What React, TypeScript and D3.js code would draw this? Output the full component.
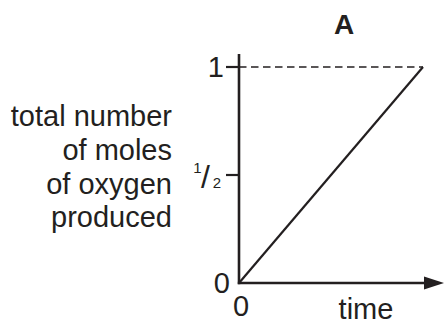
import { useEffect, useRef } from "react";
import * as d3 from "d3";

// data
const timeValues = [0, 1];
const molesValues = [0, 1];
const yTicks = [0, 0.5, 1];
const yTickLabels = ["0", "½", "1"];
const xTicks = [0];
const xTickLabels = ["0"];
const yTitleLines = ["total number", "of moles", "of oxygen", "produced"];
const xTitle = "time";
const chartTitle = "A";

const FONT = "'Liberation Sans', Arial, Helvetica, sans-serif";

const App = () => {
    const svgRef = useRef<SVGSVGElement | null>(null);

    useEffect(() => {
        const svg = d3.select(svgRef.current);
        svg.selectAll("*").remove(); // 초기화

        const x = d3.scaleLinear().domain([0, 1]).range([239, 423]);
        const y = d3.scaleLinear().domain([0, 1]).range([283, 67]);

        const ink = "#231f20";

        // dashed guide at the final value
        svg.append("line")
            .attr("x1", x(0)).attr("x2", x(timeValues[1]))
            .attr("y1", y(molesValues[1])).attr("y2", y(molesValues[1]))
            .attr("stroke", ink)
            .attr("stroke-width", 1.3)
            .attr("stroke-dasharray", "7.5 4.5");

        // y axis
        svg.append("line")
            .attr("x1", x(0)).attr("x2", x(0))
            .attr("y1", y(1) - 13).attr("y2", y(0) + 1.2)
            .attr("stroke", ink).attr("stroke-width", 2.6);

        // x axis with arrow
        svg.append("line")
            .attr("x1", x(0) - 1.2).attr("x2", 426)
            .attr("y1", y(0)).attr("y2", y(0))
            .attr("stroke", ink).attr("stroke-width", 2.6);
        svg.append("path")
            .attr("d", `M424,${y(0) - 6.5}L444,${y(0)}L424,${y(0) + 6.5}Z`)
            .attr("fill", ink);

        // y ticks
        yTicks.forEach((t, i) => {
            if (t === 0) {
                svg.append("text")
                    .attr("x", x(0) - 9)
                    .attr("y", y(t) + 10)
                    .attr("text-anchor", "end")
                    .style("font-family", FONT)
                    .style("font-size", "29px")
                    .attr("fill", ink)
                    .text(yTickLabels[i]);
                return;
            }
            svg.append("line")
                .attr("x1", x(0) - 13).attr("x2", x(0))
                .attr("y1", y(t)).attr("y2", y(t))
                .attr("stroke", ink).attr("stroke-width", 2.2);
            if (yTickLabels[i] === "½") {
                const g = svg.append("g")
                    .style("font-family", FONT)
                    .attr("fill", ink);
                g.append("text").attr("x", 197.5).attr("y", y(t) - 2)
                    .attr("text-anchor", "middle").style("font-size", "15px").text("1");
                g.append("text").attr("x", 205.5).attr("y", y(t) + 13)
                    .attr("text-anchor", "middle").style("font-size", "32px").text("/");
                g.append("text").attr("x", 217).attr("y", y(t) + 13)
                    .attr("text-anchor", "middle").style("font-size", "15px").text("2");
            } else {
                svg.append("text")
                    .attr("x", x(0) - 15)
                    .attr("y", y(t) + 10)
                    .attr("text-anchor", "end")
                    .style("font-family", FONT)
                    .style("font-size", "29px")
                    .attr("fill", ink)
                    .text(yTickLabels[i]);
            }
        });

        // x tick labels
        xTicks.forEach((t, i) => {
            svg.append("text")
                .attr("x", x(t) + 2)
                .attr("y", y(0) + 33)
                .attr("text-anchor", "middle")
                .style("font-family", FONT)
                .style("font-size", "29px")
                .attr("fill", ink)
                .text(xTickLabels[i]);
        });

        // data line
        const line = d3.line<number>()
            .x((_, i) => x(timeValues[i]))
            .y((d) => y(d));
        svg.append("path")
            .datum(molesValues)
            .attr("d", line)
            .attr("fill", "none")
            .attr("stroke", ink)
            .attr("stroke-width", 2.2);

        // axis titles
        svg.append("text")
            .attr("x", 366)
            .attr("y", 319)
            .attr("text-anchor", "middle")
            .style("font-family", FONT)
            .style("font-size", "29px")
            .attr("fill", ink)
            .text(xTitle);

        const yTitle = svg.append("text")
            .attr("text-anchor", "end")
            .style("font-family", FONT)
            .style("font-size", "29px")
            .attr("fill", ink);
        yTitleLines.forEach((l, i) => {
            yTitle.append("tspan")
                .attr("x", 172)
                .attr("y", 126 + i * 33.8)
                .text(l);
        });

        svg.append("text")
            .attr("x", 344)
            .attr("y", 34)
            .attr("text-anchor", "middle")
            .style("font-family", FONT)
            .style("font-size", "28px")
            .style("font-weight", "bold")
            .attr("fill", ink)
            .text(chartTitle);
    }, []);

    return (
        <svg
            ref={svgRef}
            width={444}
            height={324}
            style={{ position: "absolute", left: 0, top: 0, background: "#fff" }}
        ></svg>
    );
};

export default App;
